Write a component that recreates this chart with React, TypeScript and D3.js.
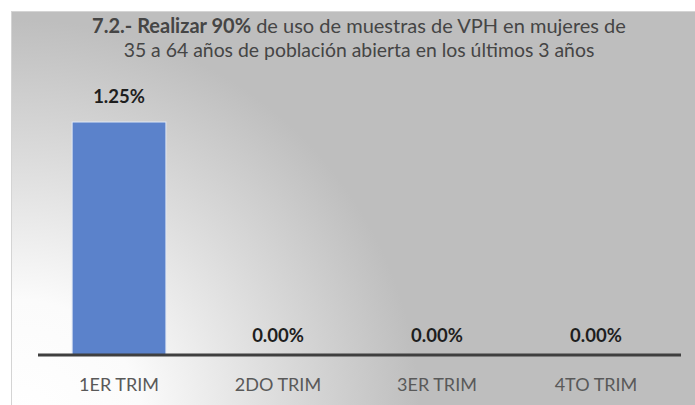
import React from "react";
import * as d3 from "d3";

const categories = ["1ER TRIM", "2DO TRIM", "3ER TRIM", "4TO TRIM"];
const values = [1.25, 0, 0, 0];
const titleBold = "7.2.- Realizar 90%";
const titleRest1 = " de uso de muestras de VPH en mujeres de";
const titleLine2 = "35 a 64 años de población abierta en los últimos 3 años";

const W = 695;
const H = 405;
const FONT = "Lato, 'Open Sans', sans-serif";

export default function App() {
  const x = d3
    .scaleBand<string>()
    .domain(categories)
    .range([40, 675])
    .paddingInner(0.41)
    .paddingOuter(0.202);
  const y = d3.scaleLinear().domain([0, 1.25]).range([355, 122]);
  const baseY = y(0);

  return (
    <div style={{ position: "absolute", left: 0, top: 0, margin: 0 }}>
      <svg width={W} height={H} style={{ display: "block" }}>
        <defs>
          <radialGradient id="bg" gradientUnits="userSpaceOnUse" cx={20} cy={420} r={400}>
            <stop offset="0" stopColor="#ffffff" />
            <stop offset="0.3" stopColor="#fbfbfb" />
            <stop offset="0.65" stopColor="#dcdcdc" />
            <stop offset="1" stopColor="#bebebe" />
          </radialGradient>
        </defs>
        <rect x={0} y={0} width={W} height={H} fill="#ffffff" />
        <rect x={11.5} y={11.5} width={W - 11} height={H - 10} fill="url(#bg)" stroke="#d4d4d4" strokeWidth={1} />

        <text x={359} y={33} textAnchor="middle" fontFamily={FONT} fontSize={20} fill="#454545">
          <tspan fontWeight="bold">{titleBold}</tspan>
          <tspan>{titleRest1}</tspan>
        </text>
        <text x={359} y={57} textAnchor="middle" fontFamily={FONT} fontSize={19.4} fill="#454545">
          {titleLine2}
        </text>

        {categories.map((c, i) => (
          <rect
            key={c}
            x={x(c)!}
            y={y(values[i])}
            width={x.bandwidth()}
            height={baseY - y(values[i])}
            fill="#5b82cb"
            stroke="#dfe7f5"
            strokeWidth={values[i] > 0 ? 1 : 0}
          />
        ))}

        <line x1={38} x2={681} y1={baseY} y2={baseY} stroke="#3f3f3f" strokeWidth={3} />

        {categories.map((c, i) => (
          <text
            key={"v" + c}
            x={x(c)! + x.bandwidth() / 2}
            y={y(values[i]) - (values[i] > 0 ? 19 : 13)}
            textAnchor="middle"
            fontFamily={FONT}
            fontWeight="bold"
            fontSize={18.5}
            fill="#1e1e1e"
          >
            {d3.format(".2f")(values[i]) + "%"}
          </text>
        ))}

        {categories.map((c) => (
          <text
            key={"c" + c}
            x={x(c)! + x.bandwidth() / 2}
            y={391}
            textAnchor="middle"
            fontFamily={FONT}
            fontSize={18}
            fill="#595959"
          >
            {c}
          </text>
        ))}
      </svg>
    </div>
  );
}
